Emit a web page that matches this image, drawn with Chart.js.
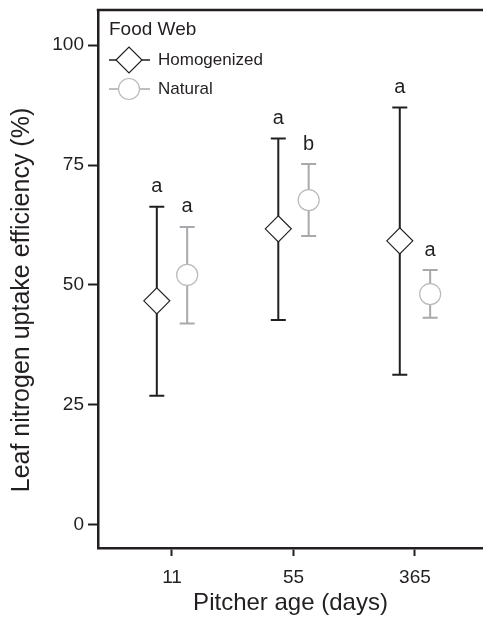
<!DOCTYPE html>
<html>
<head>
<meta charset="utf-8">
<script src="https://cdn.jsdelivr.net/npm/chart.js@4/dist/chart.umd.min.js"></script>
<style>
html,body{margin:0;padding:0;background:#fff;}
canvas{display:block;}
</style>
</head>
<body>
<canvas id="c" width="483" height="621"></canvas>
<script>
// ---- data ----
const days = ['11', '55', '365'];
const homogMean  = [46.7, 61.7, 59.2];
const homogUpper = [66.3, 80.5, 87.0];
const homogLower = [26.9, 42.7, 31.3];
const naturalMean  = [52.1, 67.7, 48.1];
const naturalUpper = [62.1, 75.2, 53.1];
const naturalLower = [42.0, 60.2, 43.2];
const homogLetters   = ['a', 'a', 'a'];
const naturalLetters = ['a', 'b', 'a'];
const yTicks = [0, 25, 50, 75, 100];
const seriesNames = ['Homogenized', 'Natural'];
const legendTitle = 'Food Web';
const yTitle = 'Leaf nitrogen uptake efficiency (%)';
const xTitle = 'Pitcher age (days)';

const DARK = '#231f20';
const GRAY_BAR = '#a7a9ac';
const GRAY_MARK = '#b8babc';
const DODGE = 0.125;
const FONT = '"Liberation Sans", Arial, Helvetica, sans-serif';

Chart.defaults.font.family = FONT;
Chart.defaults.color = DARK;

function pts(means, sign) {
  return means.map((m, i) => ({ x: i + 1 + sign * DODGE, y: m }));
}

const datasets = [
  {
    label: seriesNames[0],
    data: pts(homogMean, -1),
    lo: homogLower, hi: homogUpper, letters: homogLetters,
    barColor: DARK,
    pointStyle: 'rectRot', pointRadius: 13,
    pointBackgroundColor: '#fff', pointBorderColor: DARK, pointBorderWidth: 1.2
  },
  {
    label: seriesNames[1],
    data: pts(naturalMean, 1),
    lo: naturalLower, hi: naturalUpper, letters: naturalLetters,
    barColor: GRAY_BAR,
    pointStyle: 'circle', pointRadius: 10.5,
    pointBackgroundColor: '#fff', pointBorderColor: GRAY_MARK, pointBorderWidth: 1.2
  }
];

const errorBars = {
  id: 'errorBars',
  beforeDatasetsDraw(chart) {
    const ctx = chart.ctx, ys = chart.scales.y;
    chart.data.datasets.forEach((ds, di) => {
      const meta = chart.getDatasetMeta(di);
      meta.data.forEach((pt, i) => {
        const x = pt.x;
        const yl = ys.getPixelForValue(ds.lo[i]);
        const yh = ys.getPixelForValue(ds.hi[i]);
        ctx.save();
        ctx.strokeStyle = ds.barColor;
        ctx.lineWidth = 2;
        ctx.beginPath();
        ctx.moveTo(x, yl); ctx.lineTo(x, yh);
        ctx.moveTo(x - 7.5, yl); ctx.lineTo(x + 7.5, yl);
        ctx.moveTo(x - 7.5, yh); ctx.lineTo(x + 7.5, yh);
        ctx.stroke();
        ctx.restore();
      });
    });
  },
  afterDatasetsDraw(chart) {
    const ctx = chart.ctx, ys = chart.scales.y;
    chart.data.datasets.forEach((ds, di) => {
      const meta = chart.getDatasetMeta(di);
      meta.data.forEach((pt, i) => {
        ctx.save();
        ctx.fillStyle = DARK;
        ctx.font = '20px ' + FONT;
        ctx.textAlign = 'center';
        ctx.textBaseline = 'middle';
        ctx.fillText(ds.letters[i], pt.x, ys.getPixelForValue(ds.hi[i]) - 20);
        ctx.restore();
      });
    });
  },
  afterDraw(chart) {
    const ctx = chart.ctx, ca = chart.chartArea;
    ctx.save();
    // top frame line
    ctx.strokeStyle = DARK;
    ctx.lineWidth = 2.5;
    ctx.beginPath();
    ctx.moveTo(ca.left - 1.25, ca.top);
    ctx.lineTo(chart.width, ca.top);
    ctx.stroke();
    // y title
    ctx.save();
    ctx.translate(22, 300);
    ctx.rotate(-Math.PI / 2);
    ctx.fillStyle = DARK;
    ctx.font = '25px ' + FONT;
    ctx.textAlign = 'center';
    ctx.textBaseline = 'middle';
    ctx.fillText(yTitle, 0, 0);
    ctx.restore();
    // legend
    ctx.fillStyle = DARK;
    ctx.textBaseline = 'middle';
    ctx.textAlign = 'left';
    ctx.font = '19px ' + FONT;
    ctx.fillText(legendTitle, ca.left + 11, ca.top + 20);
    const rowsY = [ca.top + 50, ca.top + 79];
    chart.data.datasets.forEach((ds, di) => {
      const y = rowsY[di];
      const x0 = ca.left + 11, x1 = ca.left + 52, xc = ca.left + 31;
      ctx.strokeStyle = ds.barColor;
      ctx.lineWidth = 1.5;
      ctx.beginPath();
      ctx.moveTo(x0, y); ctx.lineTo(x1, y);
      ctx.stroke();
      ctx.fillStyle = '#fff';
      ctx.strokeStyle = ds.pointBorderColor;
      ctx.lineWidth = ds.pointBorderWidth;
      Chart.helpers.drawPoint(ctx, {
        pointStyle: ds.pointStyle,
        radius: ds.pointRadius,
        borderWidth: ds.pointBorderWidth,
        rotation: 0
      }, xc, y);
      ctx.fillStyle = DARK;
      ctx.font = '17px ' + FONT;
      ctx.fillText(ds.label, ca.left + 60, y);
    });
    ctx.restore();
  }
};

function noPad(s) {
  s.paddingTop = 0; s.paddingBottom = 0; s.paddingLeft = 0; s.paddingRight = 0;
}

new Chart(document.getElementById('c'), {
  type: 'scatter',
  data: { datasets },
  options: {
    responsive: false,
    animation: false,
    events: [],
    layout: { autoPadding: false, padding: { top: 10, right: 0, left: 0, bottom: 0 } },
    plugins: { legend: { display: false }, tooltip: { enabled: false } },
    scales: {
      x: {
        type: 'linear',
        min: 0.391, max: 3.56,
        afterBuildTicks: s => { s.ticks = days.map((d, i) => ({ value: i + 1 })); },
        afterFit: s => { s.height = 73; noPad(s); },
        ticks: {
          callback: v => days[Math.round(v) - 1],
          font: { size: 19 }, color: DARK, padding: 10,
          autoSkip: false, maxRotation: 0
        },
        grid: { display: true, drawOnChartArea: false, tickLength: 8, tickWidth: 2, tickColor: DARK },
        border: { display: true, width: 2.5, color: DARK },
        title: { display: true, text: xTitle, font: { size: 24 }, color: DARK, padding: { top: 0, bottom: 3 } }
      },
      y: {
        type: 'linear',
        min: -4.8, max: 107.3,
        afterBuildTicks: s => { s.ticks = yTicks.map(v => ({ value: v })); },
        afterFit: s => { s.width = 98; noPad(s); },
        ticks: { font: { size: 19 }, color: DARK, padding: 4 },
        grid: { display: true, drawOnChartArea: false, tickLength: 10, tickWidth: 2, tickColor: DARK },
        border: { display: true, width: 2.5, color: DARK },
        title: { display: false }
      }
    }
  },
  plugins: [errorBars]
});
</script>
</body>
</html>
